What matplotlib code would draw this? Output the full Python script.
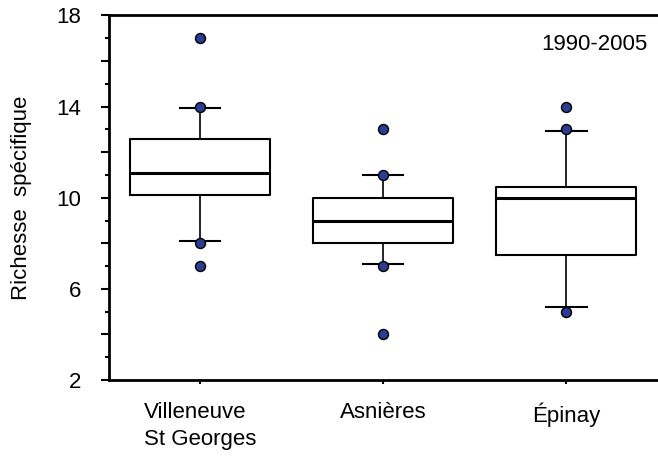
import matplotlib
matplotlib.use("Agg")
import matplotlib.pyplot as plt
from matplotlib.ticker import MultipleLocator, FuncFormatter

plt.rcParams["font.family"] = ["Liberation Sans", "DejaVu Sans"]

sites = ["Villeneuve\nSt Georges", "Asnières", "Épinay"]
q1 = [10.1, 8.0, 7.5]
median = [11.1, 9.0, 10.0]
q3 = [12.6, 10.0, 10.46]
whisk_lo = [8.1, 7.1, 5.2]
whisk_hi = [13.95, 11.0, 12.95]
points = [[17, 14, 8, 7], [13, 11, 7, 4], [14, 13, 5]]

dot_color = "#2b3c91"

fig = plt.figure(figsize=(6.58, 4.61), dpi=100)
ax = fig.add_axes([0.165, 0.1757, 0.835, 0.7907])

stats = []
for i, name in enumerate(sites):
    stats.append(dict(label=name, q1=q1[i], med=median[i], q3=q3[i],
                      whislo=whisk_lo[i], whishi=whisk_hi[i], fliers=[]))

ax.bxp(stats, positions=[1, 2, 3], widths=0.765, capwidths=0.22,
       showfliers=False,
       boxprops=dict(color="black", linewidth=1.5),
       medianprops=dict(color="black", linewidth=2.2),
       whiskerprops=dict(color="black", linewidth=1.2),
       capprops=dict(color="black", linewidth=1.5))

for i, vals in enumerate(points):
    ax.plot([i + 1] * len(vals), vals, "o", color=dot_color,
            markeredgecolor="black", markeredgewidth=1.0,
            markersize=7.2, zorder=5, clip_on=False)

ax.set_xlim(0.5, 3.5)
ax.set_ylim(2, 18)

ax.yaxis.set_major_locator(MultipleLocator(2))
ax.yaxis.set_minor_locator(MultipleLocator(1))
ax.yaxis.set_major_formatter(
    FuncFormatter(lambda v, p: f"{v:.0f}" if round(v - 2) % 4 == 0 else ""))

ax.spines["right"].set_visible(False)
for side in ["left", "top", "bottom"]:
    ax.spines[side].set_linewidth(2.0)

ax.tick_params(axis="y", which="major", length=6, width=1.5, labelsize=16, pad=14)
ax.tick_params(axis="y", which="minor", length=3, width=1.5)
ax.tick_params(axis="x", which="major", length=3, width=1.5, labelsize=16, pad=13)
for lbl in ax.get_xticklabels():
    lbl.set_multialignment("left")
    lbl.set_linespacing(1.35)

ax.set_ylabel("Richesse  spécifique", fontsize=16, labelpad=17)
ax.text(0.98, 0.92, "1990-2005", transform=ax.transAxes,
        ha="right", va="center", fontsize=16)

fig.savefig("out.png", dpi=100)
